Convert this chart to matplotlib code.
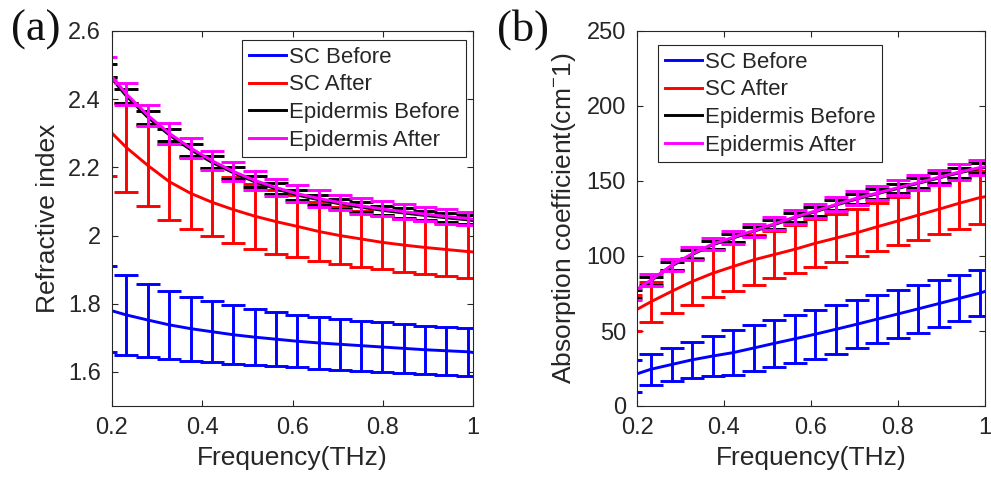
import matplotlib
matplotlib.use("Agg")
import matplotlib.pyplot as plt

plt.rcParams["font.family"] = ["Liberation Sans", "DejaVu Sans"]
plt.rcParams["mathtext.fontset"] = "custom"
plt.rcParams["mathtext.rm"] = "Liberation Sans"

# Frequency grid (THz): error-bar positions, last entry closes the curve at 1 THz
freq = [0.185, 0.232, 0.280, 0.327, 0.374, 0.421, 0.469, 0.516, 0.563,
        0.610, 0.658, 0.705, 0.752, 0.799, 0.847, 0.894, 0.941, 0.989, 1.000]

labels = ["SC Before", "SC After", "Epidermis Before", "Epidermis After"]

# (a) refractive index, mean and standard deviation
n_sc_before = [1.785, 1.767, 1.752, 1.738, 1.727, 1.718, 1.709, 1.702, 1.696,
               1.690, 1.685, 1.681, 1.677, 1.673, 1.669, 1.665, 1.662, 1.659, 1.657]
n_sc_before_sd = [0.127, 0.117, 0.107, 0.100, 0.094, 0.090, 0.086, 0.083, 0.080,
                  0.077, 0.076, 0.074, 0.073, 0.072, 0.071, 0.070, 0.070, 0.070]
n_sc_after = [2.320, 2.258, 2.205, 2.158, 2.124, 2.098, 2.076, 2.057, 2.041,
              2.027, 2.012, 2.000, 1.990, 1.980, 1.972, 1.965, 1.959, 1.953, 1.952]
n_sc_after_sd = [0.144, 0.130, 0.119, 0.111, 0.106, 0.100, 0.097, 0.095, 0.094,
                 0.091, 0.087, 0.083, 0.081, 0.079, 0.078, 0.077, 0.078, 0.078]
n_epi_before = [2.484, 2.409, 2.346, 2.295, 2.252, 2.215, 2.184, 2.158, 2.137,
                2.119, 2.105, 2.093, 2.083, 2.074, 2.066, 2.059, 2.052, 2.046, 2.044]
n_epi_before_sd = [0.020, 0.020, 0.019, 0.019, 0.018, 0.018, 0.017, 0.017, 0.016,
                   0.016, 0.015, 0.015, 0.015, 0.014, 0.014, 0.014, 0.013, 0.013]
n_epi_after = [2.490, 2.415, 2.352, 2.300, 2.257, 2.220, 2.188, 2.162, 2.141,
               2.123, 2.109, 2.097, 2.087, 2.078, 2.070, 2.063, 2.056, 2.050, 2.048]
n_epi_after_sd = [0.034, 0.033, 0.032, 0.031, 0.030, 0.029, 0.028, 0.027, 0.026,
                  0.025, 0.024, 0.023, 0.023, 0.022, 0.022, 0.021, 0.021, 0.020]

# (b) absorption coefficient (cm^-1), mean and standard deviation
a_sc_before = [20.0, 24.5, 27.7, 30.8, 33.3, 35.6, 38.7, 41.8, 44.8,
               47.9, 51.2, 54.5, 57.9, 61.3, 64.8, 68.3, 71.8, 75.3, 76.4]
a_sc_before_sd = [10.5, 10.5, 11.3, 12.2, 13.5, 15.0, 15.4, 15.7, 16.0,
                  16.3, 16.3, 16.1, 16.1, 16.0, 15.9, 15.5, 15.3, 15.1]
a_sc_after = [62.0, 69.5, 76.5, 83.0, 88.5, 93.0, 97.5, 101.0, 104.5,
              108.5, 112.0, 115.5, 119.5, 123.3, 127.3, 131.2, 135.2, 139.0, 139.5]
a_sc_after_sd = [12.3, 13.4, 14.5, 15.5, 16.1, 16.1, 16.6, 15.9, 16.1,
                 16.0, 15.8, 15.7, 16.0, 16.3, 16.5, 16.8, 17.0, 17.5]
a_epi_before = [74.5, 83.5, 93.4, 101.0, 107.5, 112.0, 116.5, 121.0, 125.5,
                129.5, 134.0, 138.0, 141.5, 145.0, 148.5, 152.0, 155.5, 158.5, 159.0]
a_epi_before_sd = [2.6, 2.6, 2.7, 2.7, 2.8, 2.9, 2.9, 3.0, 3.0,
                   3.1, 3.1, 3.2, 3.2, 3.3, 3.3, 3.4, 3.4, 3.4]
a_epi_after = [75.0, 84.0, 94.0, 101.5, 108.0, 112.5, 117.0, 121.5, 126.0,
               130.0, 134.5, 138.5, 142.0, 145.5, 149.0, 152.5, 156.0, 159.0, 159.5]
a_epi_after_sd = [4.0, 4.0, 4.1, 4.2, 4.3, 4.4, 4.5, 4.5, 4.6,
                  4.7, 4.8, 4.8, 4.9, 5.0, 5.0, 5.1, 5.2, 5.2]

x_ticks = [0.2, 0.4, 0.6, 0.8, 1.0]
x_ticklabels = ["0.2", "0.4", "0.6", "0.8", "1"]
n_ticks = [1.6, 1.8, 2.0, 2.2, 2.4, 2.6]
n_ticklabels = ["1.6", "1.8", "2", "2.2", "2.4", "2.6"]
a_ticks = [0, 50, 100, 150, 200, 250]
a_ticklabels = ["0", "50", "100", "150", "200", "250"]

colors = ["#0000ff", "#ff0000", "#000000", "#ff00ff"]
AXIS_COLOR = "#262626"

W, H = 991, 483
fig = plt.figure(figsize=(W / 100, H / 100), dpi=100)


def fig_rect(x0, y0, x1, y1):
    return [x0 / W, 1 - y1 / H, (x1 - x0) / W, (y1 - y0) / H]


ax_a = fig.add_axes(fig_rect(112, 31, 473, 406))
ax_b = fig.add_axes(fig_rect(637, 31, 985, 406))


def draw_panel(ax, series):
    handles = []
    nb = len(freq) - 1
    for (mean, sd), color, label in zip(series, colors, labels):
        ax.errorbar(freq[:nb], mean[:nb], yerr=sd, fmt="none", ecolor=color,
                    elinewidth=2.1, capsize=8.6, capthick=2.1, clip_on=True)
        line, = ax.plot(freq, mean, color=color, lw=2.1, label=label)
        handles.append(line)
    ax.set_xlim(0.2, 1.0)
    ax.set_xticks(x_ticks)
    ax.set_xticklabels(x_ticklabels)
    ax.tick_params(direction="in", top=True, right=True, length=4,
                   width=0.8, colors=AXIS_COLOR, labelsize=17, pad=8)
    for sp in ax.spines.values():
        sp.set_color(AXIS_COLOR)
        sp.set_linewidth(0.8)
    ax.set_xlabel("Frequency(THz)", fontsize=19, color=AXIS_COLOR, labelpad=5)
    return handles


h_a = draw_panel(ax_a, [(n_sc_before, n_sc_before_sd), (n_sc_after, n_sc_after_sd),
                        (n_epi_before, n_epi_before_sd), (n_epi_after, n_epi_after_sd)])
ax_a.set_ylim(1.5, 2.6)
ax_a.set_yticks(n_ticks)
ax_a.set_yticklabels(n_ticklabels)
ax_a.set_ylabel("Refractive index", fontsize=19, color=AXIS_COLOR, labelpad=6)

h_b = draw_panel(ax_b, [(a_sc_before, a_sc_before_sd), (a_sc_after, a_sc_after_sd),
                        (a_epi_before, a_epi_before_sd), (a_epi_after, a_epi_after_sd)])
ax_b.set_ylim(0, 250)
ax_b.set_yticks(a_ticks)
ax_b.set_yticklabels(a_ticklabels)
ax_b.set_ylabel(r"Absorption coefficient(cm$^{-}$1)", fontsize=19,
                color=AXIS_COLOR, labelpad=6)

legend_kw = dict(fontsize=16, frameon=True, fancybox=False, framealpha=1,
                 edgecolor=AXIS_COLOR, handlelength=1.7, handletextpad=0.1,
                 labelspacing=0.3, borderpad=0.3, borderaxespad=0,
                 bbox_transform=fig.transFigure)
leg_a = ax_a.legend(handles=h_a, loc="upper right",
                    bbox_to_anchor=(466 / W, 1 - 40 / H), **legend_kw)
leg_b = ax_b.legend(handles=h_b, loc="upper left",
                    bbox_to_anchor=(658 / W, 1 - 45 / H), **legend_kw)
for leg in (leg_a, leg_b):
    leg.get_frame().set_linewidth(0.8)
    for t in leg.get_texts():
        t.set_color(AXIS_COLOR)

fig.text(36 / W, 1 - 30 / H, "(a)", fontsize=32, family="Liberation Serif",
         ha="center", va="center", color="#111111")
fig.text(523 / W, 1 - 30 / H, "(b)", fontsize=32, family="Liberation Serif",
         ha="center", va="center", color="#111111")

fig.savefig("out.png", dpi=100)
